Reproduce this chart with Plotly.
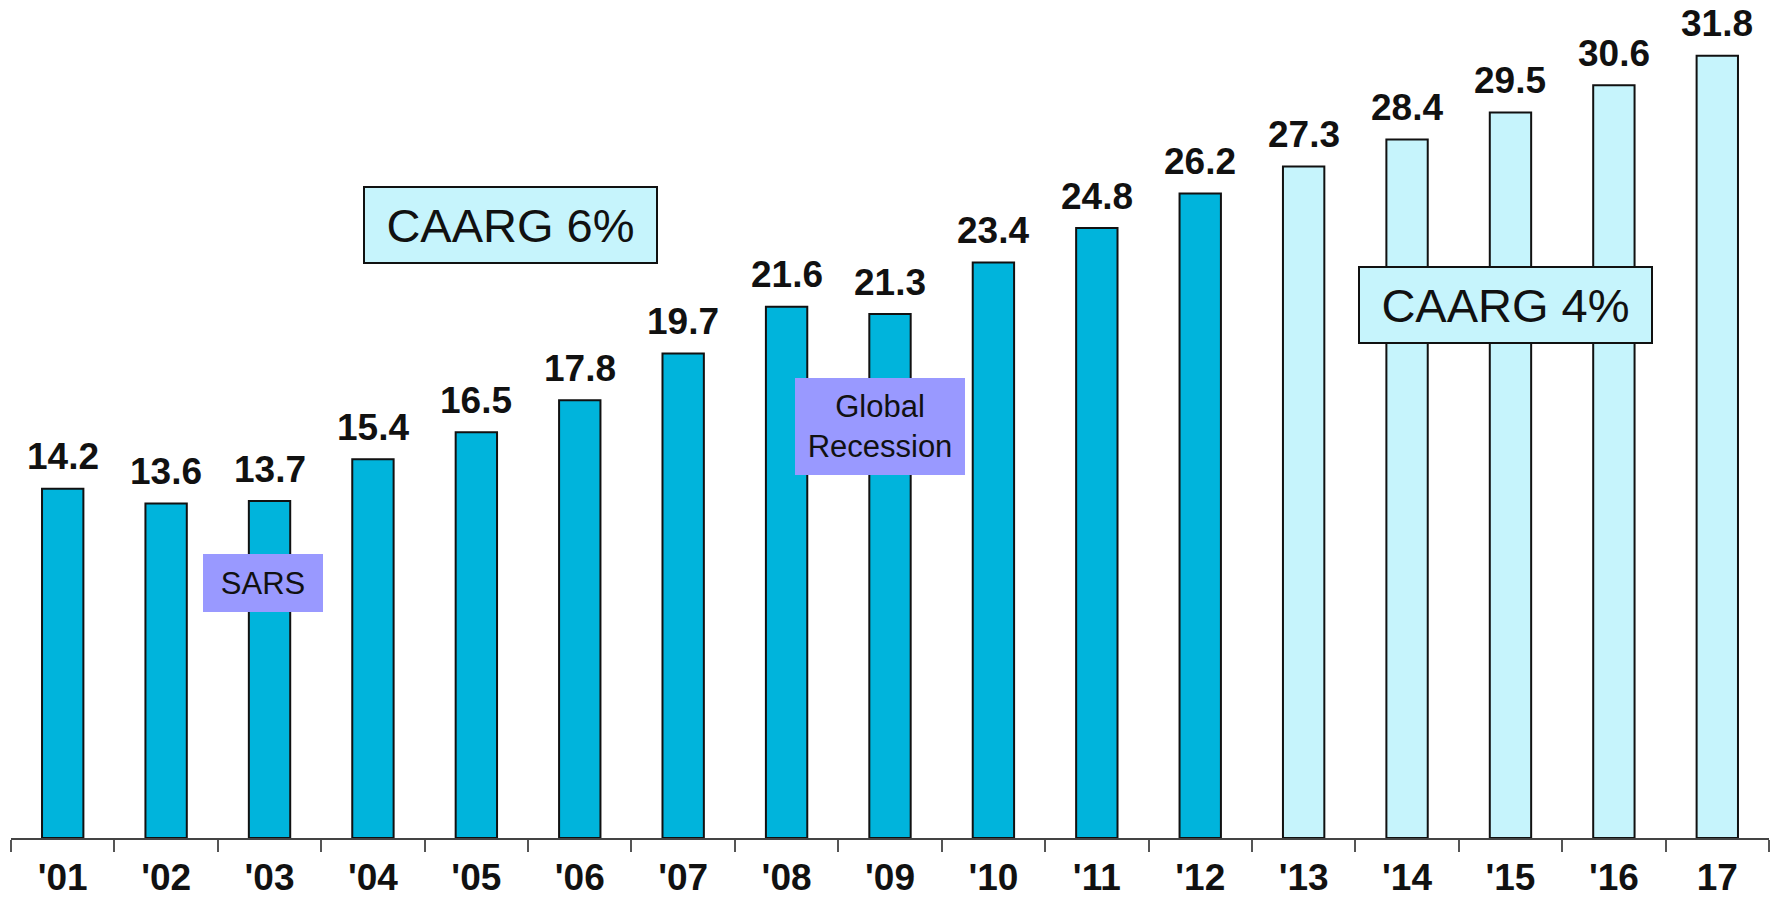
import plotly.graph_objects as go

# Annual values, 2001-2017 (2013 onward are projections)
years = ["'01", "'02", "'03", "'04", "'05", "'06", "'07", "'08", "'09",
         "'10", "'11", "'12", "'13", "'14", "'15", "'16", "17"]
values = [14.2, 13.6, 13.7, 15.4, 16.5, 17.8, 19.7, 21.6, 21.3,
          23.4, 24.8, 26.2, 27.3, 28.4, 29.5, 30.6, 31.8]
n_actual = 12  # first 12 years are actuals

ACTUAL = "#00B4DC"
FORECAST = "#C6F4FC"
EVENT = "#9999FF"
FONT = "Liberation Sans, Arial, sans-serif"

colors = [ACTUAL if i < n_actual else FORECAST for i in range(len(values))]

fig = go.Figure()
fig.add_trace(go.Bar(
    x=years, y=values,
    marker=dict(color=colors, line=dict(color="#111111", width=2)),
    width=0.4,
    hoverinfo="x+y",
))

# value labels above each bar (positioned by category index)
for i, v in enumerate(values):
    fig.add_annotation(
        x=i, y=v, text=f"{v:.1f}", showarrow=False,
        yanchor="middle", yshift=32,
        font=dict(family=FONT, size=37, color="#111111", weight="bold"),
    )

# growth-rate call-outs
for txt, xc, yc in [("CAARG 6%", 4.33, 24.94), ("CAARG 4%", 13.95, 21.69)]:
    fig.add_annotation(
        x=xc, y=yc, text=txt, showarrow=False,
        xanchor="center", yanchor="middle",
        width=291, height=74, borderpad=0,
        bgcolor=FORECAST, bordercolor="#111111", borderwidth=2,
        font=dict(family=FONT, size=47, color="#111111"),
    )

# event call-outs
for txt, xc, yc, w, h in [("SARS", 1.94, 10.37, 120, 58),
                          ("Global<br>Recession", 7.90, 16.75, 170, 97)]:
    fig.add_annotation(
        x=xc, y=yc, text=txt, showarrow=False,
        xanchor="center", yanchor="middle",
        width=w, height=h, borderpad=0,
        bgcolor=EVENT, borderwidth=0,
        font=dict(family=FONT, size=31, color="#111111"),
    )

fig.update_layout(
    width=1775, height=897,
    margin=dict(l=11, r=6, t=0, b=59),
    paper_bgcolor="white", plot_bgcolor="white",
    showlegend=False,
    xaxis=dict(
        type="category",
        categoryorder="array", categoryarray=years,
        range=[-0.5, len(years) - 0.5],
        showline=True, linecolor="#444444", linewidth=2,
        ticks="outside", ticklen=12, tickwidth=2, tickcolor="#555555",
        tickson="boundaries", ticklabelstandoff=6,
        showgrid=False, zeroline=False,
        tickfont=dict(family=FONT, size=37, color="#111111", weight="bold"),
        fixedrange=True,
    ),
    yaxis=dict(
        range=[0, 34.07], visible=False, showgrid=False, zeroline=False,
        fixedrange=True,
    ),
)

fig.write_html("out.html")
